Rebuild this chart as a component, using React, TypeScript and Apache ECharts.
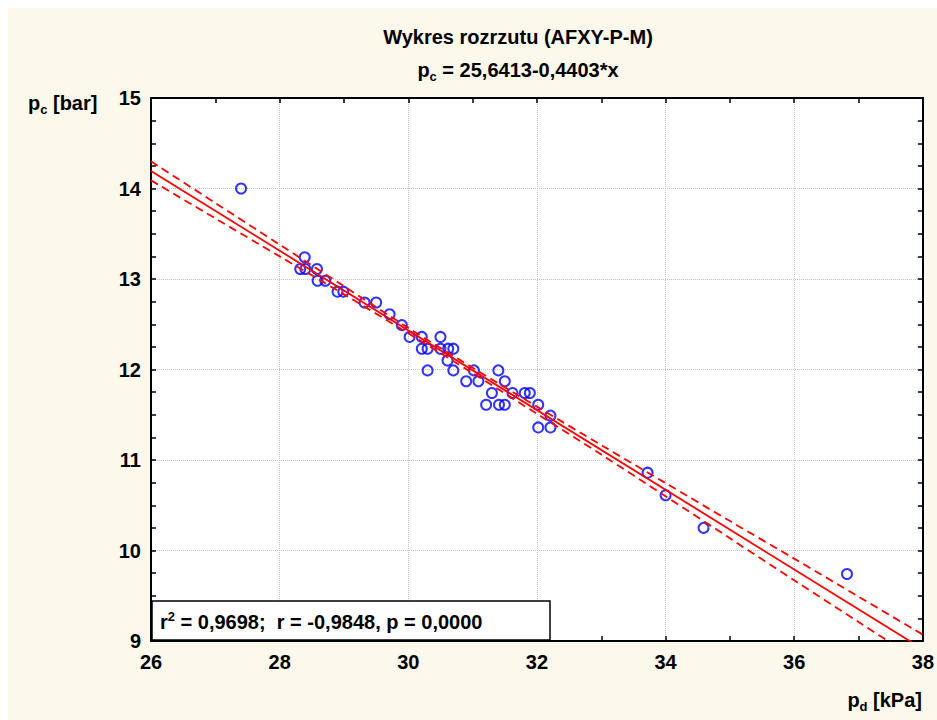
import React, { useEffect, useRef } from 'react';
import * as echarts from 'echarts';

// Scatter data: p_d [kPa] vs p_c [bar]
const pdKPa = [27.40, 28.39, 28.32, 28.40, 28.58, 28.59, 28.71, 28.90, 28.99, 29.32, 29.50, 29.71, 29.90, 30.02, 30.21, 30.50, 30.21, 30.30, 30.50, 30.62, 30.70, 30.61, 30.30, 30.70, 31.02, 31.40, 30.90, 31.09, 31.50, 31.30, 31.62, 31.81, 31.89, 31.21, 31.41, 31.50, 32.02, 32.21, 32.21, 32.02, 33.72, 34.00, 34.59, 36.82];
const pcBar = [14.00, 13.24, 13.11, 13.11, 13.11, 12.98, 12.98, 12.86, 12.86, 12.74, 12.74, 12.61, 12.49, 12.36, 12.36, 12.36, 12.23, 12.23, 12.23, 12.23, 12.23, 12.10, 11.99, 11.99, 11.99, 11.99, 11.87, 11.87, 11.87, 11.74, 11.74, 11.74, 11.74, 11.61, 11.61, 11.61, 11.61, 11.49, 11.36, 11.36, 10.86, 10.61, 10.25, 9.74];

// Regression line end points (p_c = 25,6413 - 0,4403*x)
const regX = [26, 38];
const regY = [14.193, 8.910];

// 95% confidence band
const bandX = [26, 27, 28, 29, 30, 31, 32, 33, 34, 35, 36, 37, 38];
const bandUpper = [14.30, 13.84, 13.38, 12.92, 12.46, 12.02, 11.59, 11.165, 10.745, 10.325, 9.91, 9.49, 9.07];
const bandLower = [14.09, 13.67, 13.25, 12.83, 12.40, 11.96, 11.51, 11.06, 10.60, 10.135, 9.67, 9.21, 8.75];

const FONT = "'Liberation Sans', Arial, sans-serif";
const FS = 20;

export default function App() {
  const ref = useRef<HTMLDivElement>(null);
  useEffect(() => {
    const chart = echarts.init(ref.current!, null, { renderer: 'svg' });
    const scatterData = pdKPa.map((x, i) => [x, pcBar[i]]);
    const regData = regX.map((x, i) => [x, regY[i]]);
    const upData = bandX.map((x, i) => [x, bandUpper[i]]);
    const loData = bandX.map((x, i) => [x, bandLower[i]]);
    const textBase = { fontFamily: FONT, fontWeight: 'bold' as const, fontSize: FS, color: '#000' };
    const rich = {
      a: { ...textBase, lineHeight: 25 },
      s: { fontFamily: FONT, fontWeight: 'bold' as const, fontSize: 13, lineHeight: 13, verticalAlign: 'bottom' as const, color: '#000' },
      u: { fontFamily: FONT, fontWeight: 'bold' as const, fontSize: 13, lineHeight: 13, verticalAlign: 'top' as const, color: '#000' },
    };
    const axisLineStyle = { color: '#000', width: 2 };
    const tickStyle = { color: '#000', width: 1.5 };
    const gridLine = { show: true, lineStyle: { color: '#c4c4c4', type: 'dotted' as const, width: 1 } };
    chart.setOption({
      animation: false,
      backgroundColor: '#fdf8ec',
      grid: { left: 143, top: 90, width: 774, height: 543, show: true, backgroundColor: '#ffffff', borderWidth: 0 },
      xAxis: [
        {
          type: 'value', position: 'bottom', min: 26, max: 38, interval: 2,
          axisLine: { show: true, onZero: false, lineStyle: axisLineStyle },
          axisTick: { show: true, inside: true, length: 5, lineStyle: tickStyle },
          minorTick: { show: true, splitNumber: 2, length: 5, lineStyle: tickStyle },
          axisLabel: { show: true, margin: 11, showMinLabel: true, showMaxLabel: true, ...textBase },
          splitLine: gridLine,
        },
        {
          type: 'value', position: 'top', min: 26, max: 38, interval: 1,
          axisLine: { show: true, onZero: false, lineStyle: axisLineStyle },
          axisTick: { show: true, inside: true, length: 5, lineStyle: tickStyle },
          axisLabel: { show: false },
          splitLine: { show: false },
        },
      ],
      yAxis: [
        {
          type: 'value', position: 'left', min: 9, max: 15, interval: 1,
          axisLine: { show: true, onZero: false, lineStyle: axisLineStyle },
          axisTick: { show: true, inside: true, length: 5, lineStyle: tickStyle },
          minorTick: { show: true, splitNumber: 4, length: 5, lineStyle: tickStyle },
          axisLabel: { show: true, margin: 10, showMinLabel: true, showMaxLabel: true, ...textBase },
          splitLine: gridLine,
        },
        {
          type: 'value', position: 'right', min: 9, max: 15, interval: 1,
          axisLine: { show: true, onZero: false, lineStyle: axisLineStyle },
          axisTick: { show: true, inside: true, length: 5, lineStyle: tickStyle },
          minorTick: { show: true, splitNumber: 4, length: 5, lineStyle: tickStyle },
          axisLabel: { show: false },
          splitLine: { show: false },
        },
      ],
      series: [
        {
          type: 'scatter', xAxisIndex: 0, yAxisIndex: 0, data: scatterData,
          symbol: 'circle', symbolSize: 10, z: 2,
          itemStyle: { color: 'rgba(0,0,0,0)', borderColor: '#0000ff', borderWidth: 2 },
        },
        {
          type: 'line', xAxisIndex: 0, yAxisIndex: 0, data: regData, showSymbol: false, symbol: 'none', z: 3, clip: true,
          lineStyle: { color: '#ff0000', width: 1.8 },
        },
        {
          type: 'line', xAxisIndex: 0, yAxisIndex: 0, data: upData, showSymbol: false, symbol: 'none', z: 3, clip: true, smooth: 0.3,
          lineStyle: { color: '#ff0000', width: 1.8, type: [8, 5] },
        },
        {
          type: 'line', xAxisIndex: 0, yAxisIndex: 0, data: loData, showSymbol: false, symbol: 'none', z: 3, clip: true, smooth: 0.3,
          lineStyle: { color: '#ff0000', width: 1.8, type: [8, 5] },
        },
      ],
      graphic: [
        {
          type: 'text', x: 510, y: 29, z: 50,
          style: { text: 'Wykres rozrzutu (AFXY-P-M)', fill: '#000', font: `bold ${FS}px ${FONT}`, align: 'center', verticalAlign: 'middle' },
        },
        {
          type: 'text', x: 510, y: 62, z: 50,
          style: { text: '{a|p}{s|c}{a| = 25,6413-0,4403*x}', rich, align: 'center', verticalAlign: 'middle' },
        },
        {
          type: 'text', x: 20, y: 95, z: 50,
          style: { text: '{a|p}{s|c}{a| [bar]}', rich, align: 'left', verticalAlign: 'middle' },
        },
        {
          type: 'text', x: 914, y: 692, z: 50,
          style: { text: '{a|p}{s|d}{a| [kPa]}', rich, align: 'right', verticalAlign: 'middle' },
        },
        {
          type: 'rect', z: 60,
          shape: { x: 144, y: 593, width: 398, height: 39 },
          style: { fill: '#ffffff', stroke: '#000', lineWidth: 1.5 },
        },
        {
          type: 'text', x: 152, y: 614, z: 61,
          style: { text: '{a|r}{u|2}{a| = 0,9698;  r = -0,9848, p = 0,0000}', rich, align: 'left', verticalAlign: 'middle' },
        },
      ],
    });
    return () => chart.dispose();
  }, []);
  return <div ref={ref} style={{ position: 'fixed', left: 8, top: 8, width: 929, height: 712 }} />;
}
